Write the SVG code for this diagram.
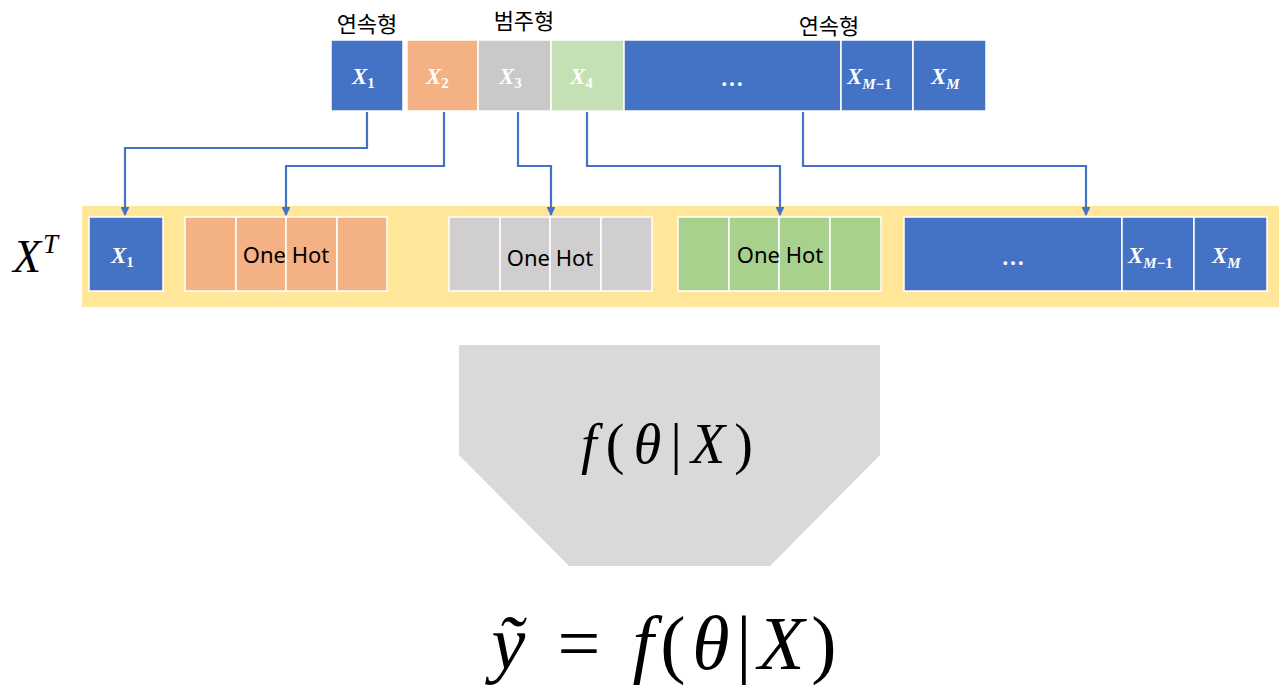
<svg xmlns="http://www.w3.org/2000/svg" width="1280" height="686" viewBox="0 0 1280 686">
<style>
.kr{font-family:"Noto Sans CJK KR","Noto Sans",sans-serif;font-size:22px;fill:#000;text-anchor:middle}
.oh{font-family:"Noto Sans","Open Sans",sans-serif;font-size:22px;fill:#000;text-anchor:middle}
.mx{font-family:"Liberation Serif","DejaVu Serif",serif;font-style:italic;font-weight:bold;font-size:23px;fill:#fff}
.sub{font-size:15px}
.n{font-style:normal}
.math{font-family:"Liberation Serif","DejaVu Serif",serif;font-style:italic;fill:#000}
.up{font-style:normal}
.blue{fill:#4472C4}
.cell{stroke:#fff;stroke-width:1.5}
.conn{fill:none;stroke:#4472C4;stroke-width:2.2}
</style>
<defs>
<marker id="ah" viewBox="0 0 10 10" refX="9" refY="5" markerWidth="4" markerHeight="4" orient="auto" markerUnits="strokeWidth">
<path d="M0,0 L10,5 L0,10 z" fill="#4472C4"/>
</marker>
</defs>
<rect width="1280" height="686" fill="#fff"/>

<g id="labels-top">
<text class="kr" x="367" y="32">연속형</text>
<text class="kr" x="524" y="29">범주형</text>
<text class="kr" x="829" y="34">연속형</text>
</g>

<g id="top-row">
<rect class="blue cell" x="331" y="40" width="72" height="71"/>
<text class="mx" x="352" y="84">X<tspan class="sub n" dy="4">1</tspan></text>
<rect class="cell" x="407" y="40" width="71" height="71" fill="#F4B183"/>
<text class="mx" x="426" y="84">X<tspan class="sub n" dy="4">2</tspan></text>
<rect class="cell" x="478" y="40" width="73" height="71" fill="#C9C9C9"/>
<text class="mx" x="499" y="84">X<tspan class="sub n" dy="4">3</tspan></text>
<rect class="cell" x="551" y="40" width="73" height="71" fill="#C5E0B4"/>
<text class="mx" x="570" y="84">X<tspan class="sub n" dy="4">4</tspan></text>
<rect class="blue cell" x="624" y="40" width="217" height="71"/>
<text class="mx n" x="732" y="86" text-anchor="middle">…</text>
<rect class="blue cell" x="841" y="40" width="72" height="71"/>
<text class="mx" x="847" y="84">X<tspan class="sub" dy="5">M</tspan><tspan class="sub n">−1</tspan></text>
<rect class="blue cell" x="913" y="40" width="73" height="71"/>
<text class="mx" x="931" y="84">X<tspan class="sub" dy="5">M</tspan></text>
</g>

<g id="band">
<rect x="82" y="206" width="1197" height="101" fill="#FFE699"/>
</g>

<g id="xt">
<text class="math" x="13" y="272" font-size="46">X<tspan font-size="27" dx="2" dy="-19">T</tspan></text>
</g>

<g id="b-x1">
<rect class="blue cell" x="89" y="217" width="74" height="74" stroke-width="2"/>
<text class="mx" x="111" y="263">X<tspan class="sub n" dy="4">1</tspan></text>
</g>

<g id="b-onehot-orange" fill="#F4B183">
<rect class="cell" x="185" y="217" width="51" height="74" stroke-width="2"/>
<rect class="cell" x="236" y="217" width="50" height="74" stroke-width="2"/>
<rect class="cell" x="286" y="217" width="51" height="74" stroke-width="2"/>
<rect class="cell" x="337" y="217" width="50" height="74" stroke-width="2"/>
<text class="oh" x="286" y="263">One Hot</text>
</g>

<g id="b-onehot-gray" fill="#D0CECE">
<rect class="cell" x="449" y="217" width="51" height="74" stroke-width="2"/>
<rect class="cell" x="500" y="217" width="50" height="74" stroke-width="2"/>
<rect class="cell" x="550" y="217" width="51" height="74" stroke-width="2"/>
<rect class="cell" x="601" y="217" width="51" height="74" stroke-width="2"/>
<text class="oh" x="550" y="266">One Hot</text>
</g>

<g id="b-onehot-green" fill="#A9D18E">
<rect class="cell" x="678" y="217" width="51" height="74" stroke-width="2"/>
<rect class="cell" x="729" y="217" width="50" height="74" stroke-width="2"/>
<rect class="cell" x="779" y="217" width="51" height="74" stroke-width="2"/>
<rect class="cell" x="830" y="217" width="51" height="74" stroke-width="2"/>
<text class="oh" x="780" y="263">One Hot</text>
</g>

<g id="b-cont">
<rect class="blue cell" x="904" y="217" width="218" height="74" stroke-width="2"/>
<text class="mx n" x="1013" y="265" text-anchor="middle">…</text>
<rect class="blue cell" x="1122" y="217" width="72" height="74" stroke-width="2"/>
<text class="mx" x="1128" y="263">X<tspan class="sub" dy="5">M</tspan><tspan class="sub n">−1</tspan></text>
<rect class="blue cell" x="1194" y="217" width="73" height="74" stroke-width="2"/>
<text class="mx" x="1212" y="263">X<tspan class="sub" dy="5">M</tspan></text>
</g>

<g id="connectors">
<polyline class="conn" points="367,112 367,148 125,148 125,215" marker-end="url(#ah)"/>
<polyline class="conn" points="444,112 444,166 286,166 286,215" marker-end="url(#ah)"/>
<polyline class="conn" points="518,112 518,166 551,166 551,215" marker-end="url(#ah)"/>
<polyline class="conn" points="587,112 587,166 780,166 780,215" marker-end="url(#ah)"/>
<polyline class="conn" points="803,112 803,166 1086,166 1086,215" marker-end="url(#ah)"/>
</g>

<g id="model">
<polygon points="459,345 880,345 880,455 770,566 569,566 459,455" fill="#D9D9D9"/>
<text class="math" x="667" y="463" font-size="56" text-anchor="middle" textLength="172" lengthAdjust="spacing">f<tspan class="up">(</tspan>θ<tspan class="up">|</tspan>X<tspan class="up">)</tspan></text>
</g>

<g id="output">
<text class="math" x="664" y="669" font-size="76" text-anchor="middle" textLength="345" lengthAdjust="spacing">ỹ <tspan class="up">=</tspan> f<tspan class="up">(</tspan>θ<tspan class="up">|</tspan>X<tspan class="up">)</tspan></text>
</g>
</svg>
